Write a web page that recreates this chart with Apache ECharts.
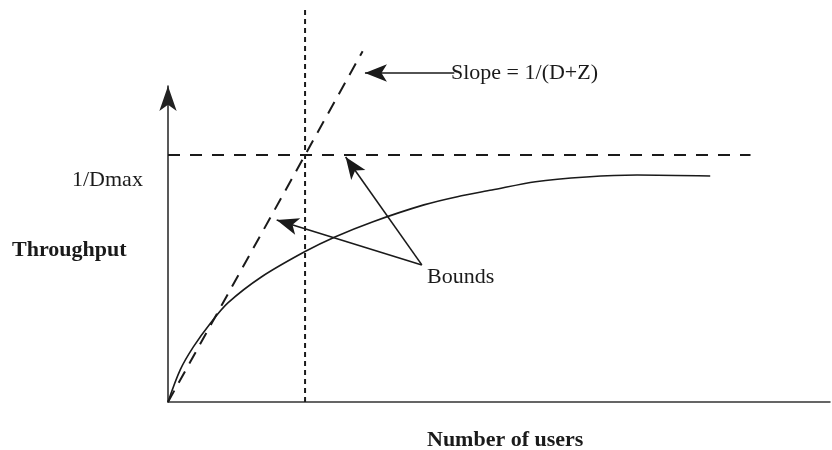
<!DOCTYPE html>
<html>
<head>
<meta charset="utf-8">
<script src="https://cdn.jsdelivr.net/npm/echarts@6/dist/echarts.min.js"></script>
<style>html,body{margin:0;padding:0;background:#fff;}#c{width:832px;height:450px;}</style>
</head>
<body>
<div id="c"></div>
<script>
// Throughput curve (x: users relative to N*, y: throughput relative to 1/Dmax)
const curveX = [0, 0.089, 0.185, 0.311, 0.437, 0.681, 1.0, 1.222, 1.496, 1.867, 2.111, 2.363, 2.681, 3.052, 3.422, 3.956];
const curveY = [0, 0.130, 0.223, 0.320, 0.401, 0.506, 0.609, 0.669, 0.730, 0.798, 0.831, 0.858, 0.892, 0.911, 0.919, 0.915];
// Bounds
const slopeX = [0, 1.42];
const slopeY = [0, 1.42];
const dmaxX = [0, 4.25];
const dmaxY = [1, 1];
const nStarX = [1, 1];
const nStarY = [0, 1.587];
// Annotation arrows: [fromX, fromY, toX, toY]
const slopeArrow = [2.089, 1.332, 1.437, 1.332];
const boundsArrow1 = [1.852, 0.555, 0.793, 0.737];
const boundsArrow2 = [1.852, 0.555, 1.296, 0.992];
// Texts
const labelDmax = '1/Dmax';
const labelY = 'Throughput';
const labelX = 'Number of users';
const labelSlope = 'Slope = 1/(D+Z)';
const labelBounds = 'Bounds';

const zip = (xs, ys) => xs.map((x, i) => [x, ys[i]]);
const font = '"Liberation Serif", "DejaVu Serif", serif';
const ink = '#1a1a1a';

const chart = echarts.init(document.getElementById('c'), null, {renderer: 'canvas'});
const arrowLine = a => [{coord: [a[0], a[1]]}, {coord: [a[2], a[3]]}];
const hiddenAxis = {show: false};

chart.setOption({
  animation: false,
  backgroundColor: '#fff',
  grid: [
    {left: 168, right: 2, top: 86, bottom: 48},   // visible axes
    {left: 168, right: 2, top: 10, bottom: 48}    // full-height plotting area, same scale
  ],
  xAxis: [
    {
      gridIndex: 0, type: 'value', min: 0, max: 4.83,
      axisLine: {lineStyle: {color: '#333', width: 1.5}},
      axisTick: {show: false}, axisLabel: {show: false}, splitLine: {show: false}
    },
    Object.assign({gridIndex: 1, type: 'value', min: 0, max: 4.83}, hiddenAxis)
  ],
  yAxis: [
    {
      gridIndex: 0, type: 'value', min: 0, max: 1.279,
      axisLine: {show: true, symbol: ['none', 'arrow'], symbolSize: [13, 25], lineStyle: {color: '#222', width: 1.5}},
      axisTick: {show: false}, axisLabel: {show: false}, splitLine: {show: false}
    },
    Object.assign({gridIndex: 1, type: 'value', min: 0, max: 1.587}, hiddenAxis)
  ],
  series: [
    {
      type: 'line', xAxisIndex: 1, yAxisIndex: 1, data: zip(curveX, curveY),
      smooth: 0.3, symbol: 'none', clip: false,
      lineStyle: {color: ink, width: 1.6}
    },
    {
      type: 'line', xAxisIndex: 1, yAxisIndex: 1, data: zip(slopeX, slopeY), symbol: 'none', clip: false,
      lineStyle: {color: ink, width: 2, type: [13, 9]}
    },
    {
      type: 'line', xAxisIndex: 1, yAxisIndex: 1, data: zip(dmaxX, dmaxY), symbol: 'none', clip: false,
      lineStyle: {color: ink, width: 2, type: [12, 10]}
    },
    {
      type: 'line', xAxisIndex: 1, yAxisIndex: 1, data: zip(nStarX, nStarY), symbol: 'none', clip: false,
      lineStyle: {color: ink, width: 2, type: [5, 4]}
    },
    {
      type: 'line', xAxisIndex: 1, yAxisIndex: 1, data: [], symbol: 'none', clip: false,
      markLine: {
        silent: true, animation: false,
        symbol: ['none', 'arrow'], symbolSize: [13, 22],
        label: {show: false},
        lineStyle: {color: ink, width: 1.6, type: 'solid'},
        data: [arrowLine(slopeArrow), arrowLine(boundsArrow1), arrowLine(boundsArrow2)]
      }
    }
  ],
  graphic: [
    {type: 'text', left: 72, top: 169, style: {text: labelDmax, font: '22px ' + font, fill: ink}},
    {type: 'text', left: 12, top: 239, style: {text: labelY, font: 'bold 22px ' + font, fill: ink}},
    {type: 'text', left: 427, top: 429, style: {text: labelX, font: 'bold 22px ' + font, fill: ink}},
    {type: 'text', left: 451, top: 62, style: {text: labelSlope, font: '22px ' + font, fill: ink}},
    {type: 'text', left: 427, top: 266, style: {text: labelBounds, font: '22px ' + font, fill: ink}}
  ]
});
</script>
</body>
</html>
